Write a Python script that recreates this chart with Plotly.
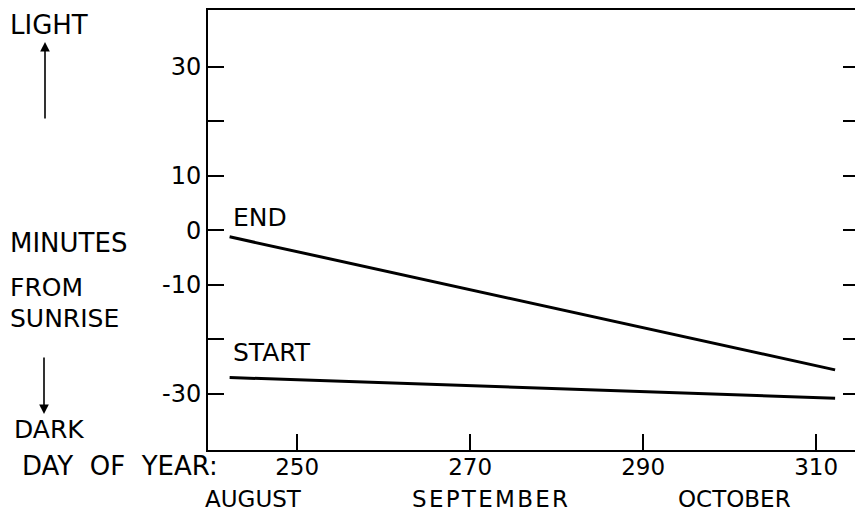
import plotly.graph_objects as go

# Data
days = [242.2, 312.2]
end_minutes = [-1.2, -25.6]
start_minutes = [-27.0, -30.8]

x_ticks = [250, 270, 290, 310]
y_ticks = [-30, -20, -10, 0, 10, 20, 30]
y_ticktext = ["-30", "", "-10", "0", "10", "", "30"]
months = ["AUGUST", "SEPTEMBER", "OCTOBER"]

FONT = "DejaVu Sans"
W, H = 855, 515
ML, MR, MT, MB = 208, 0, 10, 65
PW, PH = W - ML - MR, H - MT - MB


def px(xp):
    return (xp - ML) / PW


def py(yp):
    return (MT + PH - yp) / PH


fig = go.Figure()
fig.add_trace(go.Scatter(x=days, y=end_minutes, mode="lines",
                         line=dict(color="black", width=3), showlegend=False))
fig.add_trace(go.Scatter(x=days, y=start_minutes, mode="lines",
                         line=dict(color="black", width=3), showlegend=False))
# invisible trace to realize right-side tick axis
fig.add_trace(go.Scatter(x=[None], y=[None], yaxis="y2", showlegend=False,
                         hoverinfo="skip"))

yr = [-40.3, 40.4]
fig.update_layout(
    width=W, height=H,
    margin=dict(l=ML, r=MR, t=MT, b=MB),
    paper_bgcolor="white", plot_bgcolor="white",
    font=dict(family=FONT, color="black", size=24),
    xaxis=dict(range=[239.7, 314.5], tickvals=x_ticks, ticks="inside",
               ticklen=16, tickwidth=2, tickcolor="black", showline=True,
               linewidth=2, linecolor="black", mirror=True, showgrid=False,
               zeroline=False, tickfont=dict(size=23, family=FONT),
               ticklabelstandoff=-5, automargin=False),
    yaxis=dict(range=yr, tickvals=y_ticks, ticktext=y_ticktext,
               ticks="inside", ticklen=16, tickwidth=2, tickcolor="black",
               showline=True, linewidth=2, linecolor="black", showgrid=False,
               zeroline=False, tickfont=dict(size=24, family=FONT),
               automargin=False),
    yaxis2=dict(range=yr, tickvals=y_ticks, overlaying="y", side="right",
                ticks="inside", ticklen=12, tickwidth=2, tickcolor="black",
                showline=False, showgrid=False, zeroline=False,
                showticklabels=False, automargin=False),
)

ann = []


def text(t, xp, yp, size=25, anchor="left"):
    ann.append(dict(text=t, x=px(xp), y=py(yp), xref="paper", yref="paper",
                    xanchor=anchor, yanchor="middle", showarrow=False,
                    font=dict(family=FONT, size=size, color="black")))


def spaced(s):
    return "\u200a".join(s)


text("LIGHT", 8, 25, size=26)
text("MINUTES", 8, 243, size=26)
text("FROM", 8, 287)
text("SUNRISE", 8, 318)
text("DARK", 12, 429)
text("DAY\u00a0\u00a0OF\u00a0\u00a0YEAR:", 20, 466, size=26)
text("END", 231, 217)
text("START", 231, 352)

month_text = [months[0], spaced(months[1]), months[2]]
for m, xc in zip(month_text, [253, 490, 734]):
    text(m, xc, 499, size=23, anchor="center")

# arrows
ann.append(dict(x=px(45), y=py(42), xref="paper", yref="paper", text="",
                showarrow=True, arrowhead=2, arrowsize=1.2, arrowwidth=1.6,
                arrowcolor="black", ax=0, ay=78))
ann.append(dict(x=px(44), y=py(414), xref="paper", yref="paper", text="",
                showarrow=True, arrowhead=2, arrowsize=1.2, arrowwidth=1.6,
                arrowcolor="black", ax=0, ay=-58))

fig.update_layout(annotations=ann)
fig.write_html(
    "out.html",
    config={"displayModeBar": False},
    post_script="document.body.style.margin='0';document.body.style.overflow='hidden';",
)
